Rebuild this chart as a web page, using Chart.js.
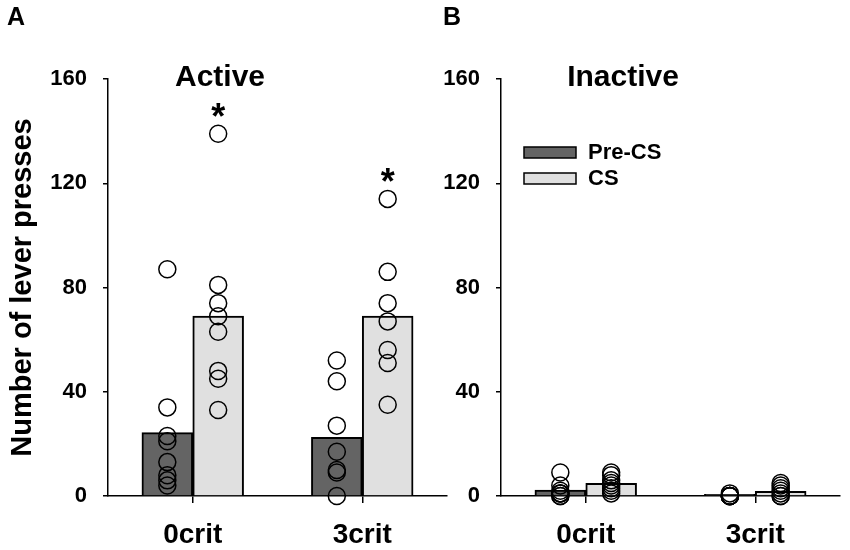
<!DOCTYPE html>
<html><head><meta charset="utf-8">
<script src="https://cdn.jsdelivr.net/npm/chart.js@4.4.1/dist/chart.umd.min.js"></script>
<style>
html,body{margin:0;padding:0;background:#fff;}
#wrap{position:relative;width:850px;height:550px;overflow:hidden;background:#fff;}
#cA{position:absolute;left:0;top:0;}
#cB{position:absolute;left:425px;top:0;}
.lbl{position:absolute;font:bold 25px "Liberation Sans",Arial,sans-serif;line-height:25px;color:#000;}
</style></head><body>
<div id="wrap">
<canvas id="cA" width="457" height="550"></canvas>
<canvas id="cB" width="425" height="550"></canvas>
<div class="lbl" style="left:7px;top:4px">A</div>
<div class="lbl" style="left:443px;top:4px">B</div>
</div>
<script>
// ---------- data ----------
const categories = ['0crit', '3crit'];
const seriesNames = ['Pre-CS', 'CS'];
const yTicks = [0, 40, 80, 120, 160];
const yTitle = 'Number of lever presses';
const titleActive = 'Active';
const titleInactive = 'Inactive';

// Active lever: group means (bars)
const activePreMean = [24.3, 22.5];
const activeCSMean = [69, 69];
// Active lever: individual animals
const activePre0crit = [87, 34, 23, 21, 13, 8, 6, 4];
const activePre3crit = [52, 44, 27, 17, 10, 9, 0];
const activeCS0crit = [139, 81, 74, 69, 63, 48, 45, 33];
const activeCS3crit = [114, 86, 74, 67, 56, 51, 35];
// significance markers (CS vs Pre-CS) per category
const activeSigCS = [true, true];

// Inactive lever: group means (bars)
const inactivePreMean = [2.3, 0.6];
const inactiveCSMean = [4.9, 1.8];
// Inactive lever: individual animals
const inactivePre0crit = [9, 4, 2, 1, 1, 1, 0, 0];
const inactivePre3crit = [1, 0, 0, 0, 0, 0, 0];
const inactiveCS0crit = [9, 8, 6, 5, 4, 3, 2, 1];
const inactiveCS3crit = [5, 4, 3, 2, 1, 0, 0];
const inactiveSigCS = [false, false];

// ---------- styling / building ----------
const FONT = '"Liberation Sans", Arial, sans-serif';
Chart.defaults.font.family = FONT;
const barColors = ['#646464', '#e0e0e0'];
const GROUP_FRAC = 0.6;   // fraction of each category occupied by the bar group

const panelDecor = {
  id: 'panelDecor',
  afterDatasetsDraw(chart, args, opts) {
    const { ctx, chartArea, scales } = chart;
    ctx.save();
    ctx.fillStyle = '#000';
    // panel title
    ctx.font = 'bold 30px ' + FONT;
    ctx.textAlign = 'center';
    ctx.textBaseline = 'middle';
    ctx.fillText(opts.title, chartArea.left + opts.titleDx, chartArea.top + opts.titleDy);
    // significance asterisks
    const asz = 36;
    ctx.font = 'bold ' + asz + 'px ' + FONT;
    ctx.textBaseline = 'alphabetic';
    (opts.sig || []).forEach((flags, s) => {
      flags.forEach((f, c) => {
        if (!f) return;
        const bar = chart.getDatasetMeta(s).data[c];
        const top = Math.max.apply(null, opts.points[s][c]);
        const yc = scales.y.getPixelForValue(top) - 26;
        ctx.fillText('*', bar.x, yc + 0.58 * asz);
      });
    });
    // legend
    if (opts.legend) {
      const items = chart.data.datasets.filter(d => d.type === 'bar');
      items.forEach((d, i) => {
        const bx = chartArea.left + 23, by = chartArea.top + 68 + i * 26;
        ctx.fillStyle = d.backgroundColor;
        ctx.fillRect(bx, by, 52, 11);
        ctx.lineWidth = 1.5;
        ctx.strokeStyle = '#000';
        ctx.strokeRect(bx, by, 52, 11);
        ctx.fillStyle = '#000';
        ctx.font = 'bold 22px ' + FONT;
        ctx.textAlign = 'left';
        ctx.textBaseline = 'middle';
        ctx.fillText(d.label, bx + 64, by + 6);
      });
    }
    ctx.restore();
  }
};

function makePanel(id, opt) {
  const nS = opt.means.length;
  const offs = opt.means.map((m, s) => (s - (nS - 1) / 2) * GROUP_FRAC / nS);
  const datasets = opt.means.map((m, s) => ({
    type: 'bar', label: seriesNames[s],
    data: m.map((v, c) => ({ x: c + offs[s], y: v })),
    backgroundColor: barColors[s], borderColor: '#000000', borderWidth: 2,
    borderSkipped: 'bottom', grouped: false, categoryPercentage: 1, barPercentage: 1,
    order: 2, xAxisID: 'x2', yAxisID: 'y'
  }));
  opt.points.forEach((perCat, s) => {
    const data = [];
    perCat.forEach((vals, c) => vals.forEach(v => data.push({ x: c + offs[s], y: v })));
    datasets.push({
      type: 'scatter', label: seriesNames[s] + ' (individual)', data,
      xAxisID: 'x2', yAxisID: 'y', order: 1, clip: false, showLine: false,
      pointRadius: 8.5, pointHoverRadius: 8.5, pointStyle: 'circle',
      pointBackgroundColor: 'rgba(0,0,0,0)', pointBorderColor: '#000', pointBorderWidth: 1.5
    });
  });
  return new Chart(document.getElementById(id), {
    type: 'bar',
    data: { labels: categories, datasets },
    options: {
      responsive: false, animation: false, devicePixelRatio: 1,
      layout: { padding: { top: 79, right: opt.padRight, left: 0, bottom: 0 } },
      plugins: {
        legend: { display: false }, tooltip: { enabled: false },
        panelDecor: { title: opt.title, titleDx: opt.titleDx, titleDy: -1, sig: opt.sig, points: opt.points, legend: opt.legend }
      },
      scales: {
        x: {
          type: 'category', offset: true,
          afterFit: s => { s.height = 54; },
          border: { display: true, color: '#000', width: 1.5 },
          grid: { offset: false, drawOnChartArea: false, drawTicks: true, tickLength: 7, color: '#000', lineWidth: 1.5 },
          ticks: { color: '#000', font: { family: FONT, size: 28, weight: 'bold' }, padding: 15, maxRotation: 0 }
        },
        x2: {
          type: 'linear', min: -0.5, max: categories.length - 0.5, offset: false, display: false,
          grid: { offset: false },
          afterBuildTicks: s => { s.ticks = [{ value: s.min }, { value: s.max }]; }
        },
        y: {
          min: 0, max: 160,
          afterBuildTicks: s => { s.ticks = yTicks.map(v => ({ value: v })); },
          afterFit: s => { s.width = opt.leftWidth; },
          border: { display: true, color: '#000', width: 1.5 },
          grid: { drawOnChartArea: false, drawTicks: true, tickLength: 5, color: '#000', lineWidth: 1.5 },
          ticks: { color: '#000', font: { family: FONT, size: 22, weight: 'bold' }, padding: 16 },
          title: { display: opt.showYTitle, text: yTitle, color: '#000', font: { family: FONT, size: 29, weight: 'bold' }, padding: { top: 6, bottom: 0 } }
        }
      }
    },
    plugins: [panelDecor]
  });
}

makePanel('cA', {
  title: titleActive, titleDx: 112,
  means: [activePreMean, activeCSMean],
  points: [[activePre0crit, activePre3crit], [activeCS0crit, activeCS3crit]],
  sig: [[false, false], activeSigCS],
  showYTitle: true, leftWidth: 108, padRight: 2, legend: false
});
makePanel('cB', {
  title: titleInactive, titleDx: 122,
  means: [inactivePreMean, inactiveCSMean],
  points: [[inactivePre0crit, inactivePre3crit], [inactiveCS0crit, inactiveCS3crit]],
  sig: [[false, false], inactiveSigCS],
  showYTitle: false, leftWidth: 76, padRight: 10, legend: true
});
</script>
</body></html>
